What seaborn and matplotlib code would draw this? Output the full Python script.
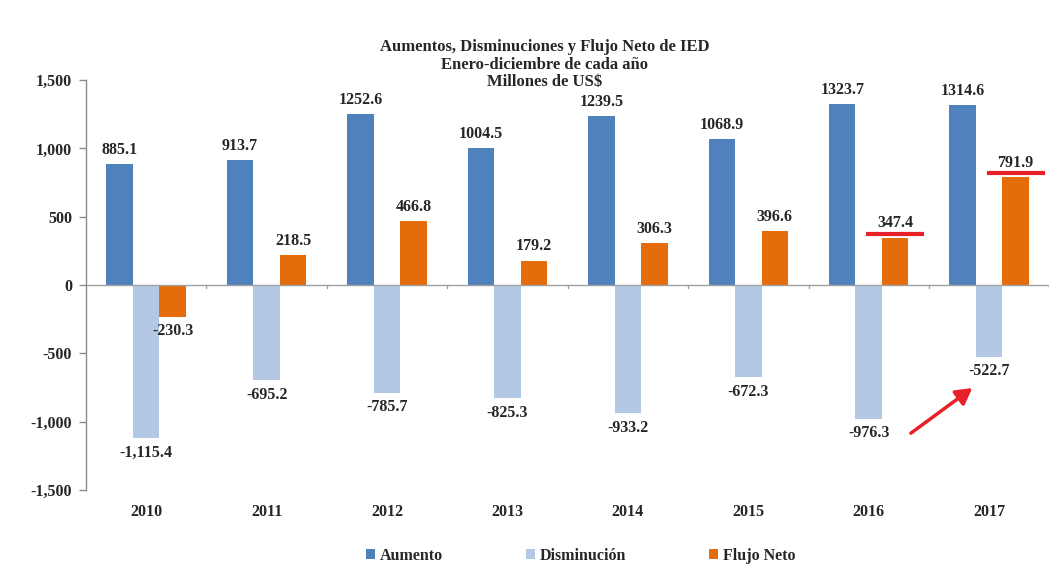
import numpy as np
import pandas as pd
import matplotlib
matplotlib.use("Agg")
import matplotlib.pyplot as plt
from matplotlib.patches import Patch
import seaborn as sns

# Inversión extranjera directa, enero-diciembre, millones de US$
years = ["2010", "2011", "2012", "2013", "2014", "2015", "2016", "2017"]
aumento = [885.1, 913.7, 1252.6, 1004.5, 1239.5, 1068.9, 1323.7, 1314.6]
disminucion = [-1115.4, -695.2, -785.7, -825.3, -933.2, -672.3, -976.3, -522.7]
flujo_neto = [-230.3, 218.5, 466.8, 179.2, 306.3, 396.6, 347.4, 791.9]
series_names = ["Aumento", "Disminución", "Flujo Neto"]
y_ticks = [-1500, -1000, -500, 0, 500, 1000, 1500]
highlight_years = ["2016", "2017"]

colors = ["#4F81BD", "#B3C8E4", "#E46C0A"]

df = pd.DataFrame({
    "Año": years * 3,
    "Serie": [series_names[0]] * 8 + [series_names[1]] * 8 + [series_names[2]] * 8,
    "Valor": aumento + disminucion + flujo_neto,
})

sns.set_theme(style="white")
plt.rcParams["font.family"] = ["Liberation Serif", "DejaVu Serif"]
plt.rcParams["font.weight"] = "bold"

LABEL_FS = 11.5

fig = plt.figure(figsize=(10.54, 5.68), dpi=100)
ax = fig.add_axes([0.0816, 0.137, 0.914, 0.722])

bw = 0.66
sns.barplot(data=df, x="Año", y="Valor", hue="Serie", order=years,
            hue_order=series_names, palette=colors, width=bw, dodge=True,
            saturation=1, errorbar=None, legend=False, ax=ax, linewidth=0)

ax.set_ylim(-1500, 1500)
ax.set_xlim(-0.5, len(years) - 0.5)
ax.set_yticks(y_ticks)
ax.set_yticklabels([f"{t:,}" for t in y_ticks], fontsize=11.5, fontweight="bold")
ax.set_xlabel("")
ax.set_ylabel("")
ax.set_xticks([])

for s in ["top", "right", "bottom"]:
    ax.spines[s].set_visible(False)
ax.spines["left"].set_color("#8C8C8C")
ax.spines["left"].set_linewidth(1.0)
ax.tick_params(axis="y", which="major", direction="out", length=5,
               color="#8C8C8C", width=1.0, pad=5, left=True)

# zero line with separators between years
ax.axhline(0, color="#A0A0A0", lw=1.0, zorder=1)
for i in range(1, len(years) + 1):
    ax.plot([i - 0.5, i - 0.5], [0, -22], color="#A0A0A0", lw=1.0, zorder=1)

# year labels below the plot
for i, yr in enumerate(years):
    ax.text(i, -1600, yr, ha="center", va="top",
            fontsize=LABEL_FS, fontweight="bold", clip_on=False)

# value labels
def fmt(v):
    return f"{v:,.1f}" if v < 0 else f"{v:.1f}"

step = bw / 3
offsets = [-step, 0, step]
for vals, off in zip([aumento, disminucion, flujo_neto], offsets):
    for i, v in enumerate(vals):
        if v >= 0:
            ax.text(i + off, v + 45, fmt(v), ha="center", va="bottom",
                    fontsize=LABEL_FS, fontweight="bold")
        else:
            ax.text(i + off, v - 50, fmt(v), ha="center", va="top",
                    fontsize=LABEL_FS, fontweight="bold")

# red highlight lines over the latest net flows
for yr in highlight_years:
    i = years.index(yr)
    v = flujo_neto[i]
    ax.plot([i + step - 0.24, i + step + 0.24], [v + 28, v + 28],
            color="#E8202A", lw=3, solid_capstyle="butt", zorder=4)

ax.annotate("", xy=(6.86, -753), xytext=(6.35, -1083),
            arrowprops=dict(arrowstyle="-|>,head_length=0.8,head_width=0.45",
                            color="#E8202A", lw=2.5, shrinkA=0, shrinkB=0))

# title
fig.text(0.517, 0.917, "Aumentos, Disminuciones y Flujo Neto de IED",
         ha="center", va="center", fontsize=12, fontweight="bold")
fig.text(0.517, 0.886, "Enero-diciembre de cada año",
         ha="center", va="center", fontsize=12, fontweight="bold")
fig.text(0.517, 0.855, "Millones de US$",
         ha="center", va="center", fontsize=12, fontweight="bold")

handles = [Patch(facecolor=c, edgecolor="none") for c in colors]
leg = fig.legend(handles, series_names, loc="center", ncol=3,
                 bbox_to_anchor=(0.551, 0.022), frameon=False,
                 handlelength=0.55, handleheight=0.55, handletextpad=0.3,
                 columnspacing=5.2, prop={"size": 11.5, "weight": "bold"})

fig.savefig("out.png", dpi=100)
